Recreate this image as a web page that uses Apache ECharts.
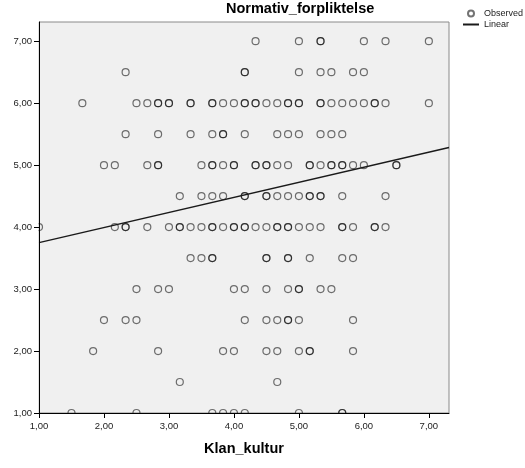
<!DOCTYPE html>
<html>
<head>
<meta charset="utf-8">
<script src="https://cdn.jsdelivr.net/npm/echarts@6/dist/echarts.min.js"></script>
<style>
  html, body { margin: 0; padding: 0; background: #ffffff; }
  #chart { width: 525px; height: 468px; }
</style>
</head>
<body>
<div id="chart"></div>
<script>
// Normativ_forpliktelse (y) against Klan_kultur (x), one array of x values per y level.
// Repeated values are respondents sharing the same pair of scores.
const normativLevels = [7, 6.5, 6, 5.5, 5, 4.5, 4, 3.5, 3, 2.5, 2, 1.5, 1];

const klanAt7_0 = [4.333, 5.0, 5.333, 5.333, 6.0, 6.333, 7.0];
const klanAt6_5 = [2.333, 4.167, 4.167, 5.0, 5.333, 5.5, 5.833, 6.0];
const klanAt6_0 = [1.667, 2.5, 2.667, 2.833, 2.833, 3.0, 3.0, 3.333, 3.333, 3.667, 3.667, 3.833,
                   4.0, 4.167, 4.167, 4.333, 4.333, 4.5, 4.667, 4.833, 4.833, 5.0, 5.0,
                   5.333, 5.333, 5.5, 5.667, 5.833, 6.0, 6.167, 6.167, 6.333, 7.0];
const klanAt5_5 = [2.333, 2.833, 3.333, 3.667, 3.833, 3.833, 4.167, 4.667, 4.833, 5.0, 5.333, 5.5, 5.667];
const klanAt5_0 = [2.0, 2.167, 2.667, 2.833, 2.833, 3.5, 3.667, 3.667, 3.833, 4.0, 4.0,
                   4.333, 4.333, 4.5, 4.5, 4.667, 4.833, 5.167, 5.167, 5.333, 5.5, 5.5,
                   5.667, 5.667, 5.833, 6.0, 6.5, 6.5];
const klanAt4_5 = [3.167, 3.5, 3.667, 3.833, 4.167, 4.167, 4.5, 4.5, 4.667, 4.833, 5.0,
                   5.167, 5.167, 5.333, 5.333, 5.667, 6.333];
const klanAt4_0 = [1.0, 2.167, 2.333, 2.333, 2.667, 3.0, 3.167, 3.167, 3.333, 3.5, 3.667, 3.667,
                   3.833, 4.0, 4.0, 4.167, 4.167, 4.333, 4.5, 4.667, 4.667, 4.833, 4.833,
                   5.0, 5.167, 5.333, 5.667, 5.667, 5.833, 6.167, 6.167, 6.333];
const klanAt3_5 = [3.333, 3.5, 3.667, 3.667, 4.5, 4.5, 4.833, 4.833, 5.167, 5.667, 5.833];
const klanAt3_0 = [2.5, 2.833, 3.0, 4.0, 4.167, 4.5, 4.833, 5.0, 5.0, 5.333, 5.5];
const klanAt2_5 = [2.0, 2.333, 2.5, 4.167, 4.5, 4.667, 4.833, 4.833, 5.0, 5.833];
const klanAt2_0 = [1.833, 2.833, 3.833, 4.0, 4.5, 4.667, 5.0, 5.167, 5.167, 5.833];
const klanAt1_5 = [3.167, 4.667];
const klanAt1_0 = [1.5, 2.5, 3.667, 3.833, 4.0, 4.167, 5.0, 5.667, 5.667];

const klanByLevel = [klanAt7_0, klanAt6_5, klanAt6_0, klanAt5_5, klanAt5_0, klanAt4_5,
                     klanAt4_0, klanAt3_5, klanAt3_0, klanAt2_5, klanAt2_0, klanAt1_5, klanAt1_0];

// Linear fit, drawn across the whole x range
const fitKlan = [1.0, 7.31];
const fitNormativ = [3.75, 5.285];

const tickValues = [1, 2, 3, 4, 5, 6, 7];
const titleText = 'Normativ_forpliktelse';
const xName = 'Klan_kultur';
const legendNames = ['Observed', 'Linear'];

const observed = [];
normativLevels.forEach((y, i) => {
  klanByLevel[i].forEach(x => observed.push([x, y]));
});
const fitLine = fitKlan.map((x, i) => [x, fitNormativ[i]]);

const fmt = v => Number(v).toFixed(2).replace('.', ',');
const FONT = '"Liberation Sans", Arial, sans-serif';

const chart = echarts.init(document.getElementById('chart'), null, { renderer: 'canvas' });

const axisCommon = {
  type: 'value',
  min: 1,
  max: 7.31,
  interval: 1,
  z: 10,
  axisLine: { show: true, onZero: false, lineStyle: { color: '#000', width: 1 } },
  axisTick: { show: true, length: 5, customValues: tickValues, lineStyle: { color: '#000', width: 1 } },
  splitLine: { show: false },
  axisLabel: {
    customValues: tickValues,
    formatter: fmt,
    color: '#222',
    fontFamily: FONT,
    fontSize: 9.5
  }
};

chart.setOption({
  animation: false,
  backgroundColor: '#ffffff',
  title: {
    text: titleText,
    left: 226,
    top: 1,
    padding: 0,
    textStyle: { fontFamily: FONT, fontWeight: 'bold', fontSize: 14.5, color: '#000' }
  },
  legend: {
    data: [
      { name: legendNames[0] },
      {
        name: legendNames[1],
        itemStyle: { color: 'rgba(0,0,0,0)', borderColor: 'rgba(0,0,0,0)', borderWidth: 0, opacity: 0 }
      }
    ],
    orient: 'vertical',
    left: 462,
    top: 9,
    padding: 0,
    itemWidth: 16,
    itemHeight: 6,
    itemGap: 2,
    selectedMode: false,
    textStyle: { fontFamily: FONT, fontSize: 9, color: '#222' }
  },
  grid: {
    left: 39,
    top: 22,
    right: 76,
    bottom: 55,
    show: true,
    backgroundColor: '#f0f0f0',
    borderColor: '#8a8a8a',
    borderWidth: 1
  },
  xAxis: Object.assign({}, axisCommon, {
    name: xName,
    nameLocation: 'middle',
    nameGap: 28,
    nameTextStyle: { fontFamily: FONT, fontWeight: 'bold', fontSize: 14.5, color: '#000' },
    axisLabel: Object.assign({}, axisCommon.axisLabel, { margin: 8 })
  }),
  yAxis: Object.assign({}, axisCommon, {
    axisLabel: Object.assign({}, axisCommon.axisLabel, { margin: 7 })
  }),
  // white masks so markers sitting on the axes are cut at the plot edge
  graphic: [
    { type: 'rect', z: 5, silent: true, shape: { x: 0, y: 413.5, width: 525, height: 54.5 }, style: { fill: '#ffffff' } },
    { type: 'rect', z: 5, silent: true, shape: { x: 0, y: 22, width: 38.5, height: 446 }, style: { fill: '#ffffff' } }
  ],
  series: [
    {
      name: legendNames[0],
      type: 'scatter',
      data: observed,
      clip: false,
      symbol: 'circle',
      symbolSize: 7,
      itemStyle: { color: 'rgba(0,0,0,0)', borderColor: '#000', borderWidth: 1.2, opacity: 0.55 },
      emphasis: { disabled: true },
      z: 2
    },
    {
      name: legendNames[1],
      type: 'line',
      data: fitLine,
      symbol: 'none',
      clip: true,
      itemStyle: { color: '#1a1a1a' },
      lineStyle: { color: '#1a1a1a', width: 1.4 },
      emphasis: { disabled: true },
      z: 3
    }
  ]
});
</script>
</body>
</html>
